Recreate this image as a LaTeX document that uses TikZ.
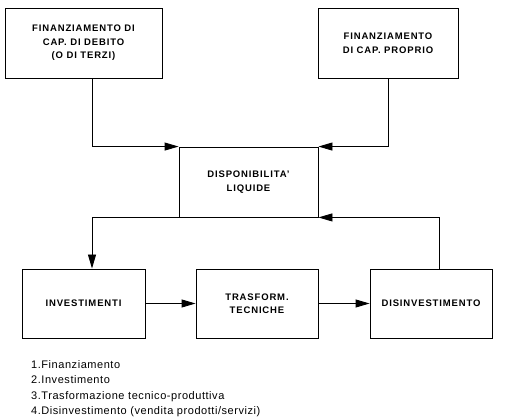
\documentclass[tikz,border=0pt]{standalone}
\usepackage{fontspec}
\setmainfont{Liberation Sans}
\usetikzlibrary{arrows.meta,positioning}

\begin{document}
\begin{tikzpicture}[x=1pt, y=-1pt,
    blocco/.style={draw, line width=0.9pt, align=center, inner sep=0pt,
        font=\bfseries\fontsize{9.5}{13.5}\selectfont\addfontfeature{LetterSpace=9}},
    freccia/.style={line width=0.9pt, -{Triangle[length=14pt,width=8pt]}},
    elenco/.style={align=left, inner sep=0pt,
        font=\fontsize{11}{15.5}\selectfont\addfontfeature{LetterSpace=5}}]

\useasboundingbox (0,0) rectangle (511,419);

% Sources of funds (top row)
\node[blocco, minimum width=157, minimum height=70] (fincd) at (83.5,43) {FINANZIAMENTO DI\\CAP. DI DEBITO\\(O DI TERZI)};
\node[blocco, minimum width=140, minimum height=70] (fincp) at (388,43) {FINANZIAMENTO\\DI CAP. PROPRIO};

% Cash in the middle
\node[blocco, minimum width=139, minimum height=70] (disp) at (248.5,182) {DISPONIBILITA'\\LIQUIDE};

% Cycle (bottom row)
\node[blocco, minimum width=123, minimum height=69] (inv) at (83.5,303.5) {INVESTIMENTI};
\node[blocco, minimum width=122, minimum height=69] (trasf) at (257,303.5) {TRASFORM.\\TECNICHE};
\node[blocco, minimum width=122, minimum height=69] (disinv) at (431,303.5) {DISINVESTIMENTO};

% Flows
\draw[freccia] ([xshift=8.5]fincd.south) |- (disp.north west);
\draw[freccia] (fincp.south) |- (disp.north east);
\draw[freccia] (disp.south west) -| ([xshift=8.5]inv.north);
\draw[freccia] (inv) -- (trasf);
\draw[freccia] (trasf) -- (disinv);
\draw[freccia] ([xshift=8]disinv.north) |- (disp.south east);

% Legend
\node[elenco, anchor=north west] (leg) at (31,360) {1.Finanziamento\\2.Investimento\\3.Trasformazione tecnico-produttiva\\4.Disinvestimento (vendita prodotti/servizi)};
\end{tikzpicture}
\end{document}
